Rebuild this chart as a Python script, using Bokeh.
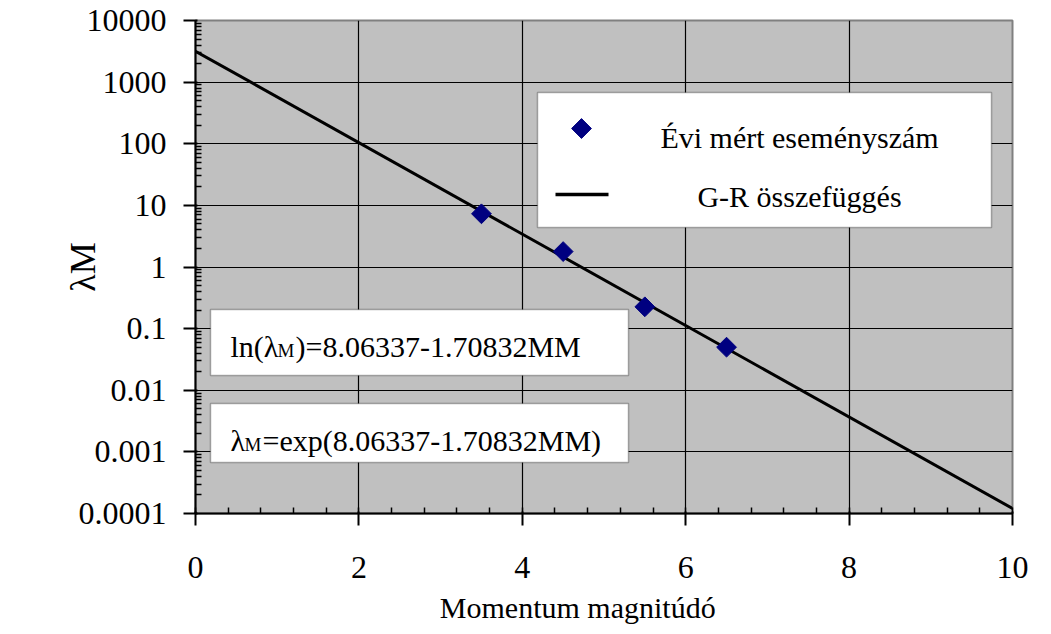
import math
from bokeh.plotting import figure
from bokeh.models import (Range1d, FixedTicker, SingleIntervalTicker, CustomJSTickFormatter,
                          Label, BoxAnnotation)
from bokeh.embed import file_html
from bokeh.resources import INLINE

# ---- data ----
magnitudes = [3.5, 4.5, 5.5, 6.5]
annual_counts = [7.3, 1.78, 0.226, 0.050]
gr_x = [0, 10]
gr_y = [3172.0, 0.000121]
y_major = [1e-4, 1e-3, 1e-2, 1e-1, 1, 10, 100, 1000, 10000]
legend_labels = ["Évi mért eseményszám", "G-R összefüggés"]
eq1 = ["ln(λ", "M", ")=8.06337-1.70832MM"]
eq2 = ["λ", "M", "=exp(8.06337-1.70832MM)"]
x_title = "Momentum magnitúdó"
y_title = "λM"

FONT = "Liberation Serif"
W, H = 1045, 630
FL, FT, FW, FH = 195, 20, 817, 493   # frame in canvas px

p = figure(width=W, height=H, output_backend="svg", toolbar_location=None,
           x_range=Range1d(0, 10), y_range=Range1d(1e-4, 1e4), y_axis_type="log",
           min_border_left=FL, min_border_top=FT,
           min_border_right=W - FL - FW, min_border_bottom=H - FT - FH)
p.background_fill_color = "#c0c0c0"
p.border_fill_color = "white"
p.outline_line_color = "#808080"
p.outline_line_width = 2

# canvas px -> data helpers (for annotation placement)
def dx(px):
    return (px - FL) / FW * 10.0

def dy(py):
    return 10 ** (4 - (py - FT) / FH * 8.0)

# axes
minor = []
for e in range(-4, 4):
    for k in range(2, 10):
        minor.append(k * 10 ** e)
p.yaxis.ticker = FixedTicker(ticks=y_major, minor_ticks=minor)
p.yaxis.formatter = CustomJSTickFormatter(code="""
    if (tick >= 1) { return Math.round(tick).toString(); }
    return tick.toPrecision(1);
""")
p.xaxis.ticker = SingleIntervalTicker(interval=2, num_minor_ticks=5)

for ax in (p.xaxis, p.yaxis):
    ax.axis_line_color = "black"
    ax.axis_line_width = 2
    ax.major_tick_line_color = "black"
    ax.major_tick_line_width = 2
    ax.minor_tick_line_color = "black"
    ax.minor_tick_line_width = 1.5
    ax.major_tick_in = 2
    ax.major_tick_out = 12
    ax.minor_tick_in = 6
    ax.minor_tick_out = 0
    ax.major_label_text_font = FONT
    ax.major_label_text_font_size = "32px"
    ax.major_label_text_color = "black"
    ax.axis_label_text_font = FONT
    ax.axis_label_text_font_style = "normal"
    ax.axis_label_text_color = "black"
p.xaxis.major_label_standoff = 31
p.yaxis.major_label_standoff = 17

p.yaxis.axis_label = y_title
p.yaxis.axis_label_text_font_size = "36px"
p.yaxis.axis_label_standoff = -27

# trailing no-break spaces shift the centred title left, as in the reference
p.xaxis.axis_label = x_title + "\u00a0" * 7
p.xaxis.axis_label_text_font_size = "30px"
p.xaxis.axis_label_standoff = 10

p.xgrid.grid_line_color = "black"
p.ygrid.grid_line_color = "black"
p.xgrid.grid_line_width = 1.2
p.ygrid.grid_line_width = 1.2

# series
p.line(gr_x, gr_y, line_color="black", line_width=3)
p.scatter(magnitudes, annual_counts, marker="square", angle=math.pi / 4, size=14,
          fill_color="#000080", line_color="#000080")

# legend (manual, centered labels)
p.add_layout(BoxAnnotation(left=dx(537), right=dx(991), top=dy(92), bottom=dy(227),
                           fill_color="white", fill_alpha=1, line_color="black", line_width=1.5))
r1 = p.scatter([dx(581)], [dy(128)], marker="square", angle=math.pi / 4, size=14,
               fill_color="#000080", line_color="#000080")
r2 = p.line([dx(555), dx(608)], [dy(194), dy(194)], line_color="black", line_width=3.5)
r1.level = "overlay"
r2.level = "overlay"
for lab, by in zip(legend_labels, [137, 196]):
    p.add_layout(Label(x=dx(799), y=dy(by), text=lab, text_align="center",
                       text_baseline="alphabetic", text_font=FONT,
                       text_font_size="30px", text_color="black"))

# equation boxes
for top, bot in [(309, 375), (403, 462)]:
    p.add_layout(BoxAnnotation(left=dx(210), right=dx(628), top=dy(top), bottom=dy(bot),
                               fill_color="white", fill_alpha=1, line_color="black", line_width=1.5))

def eq(parts, xs, base, sub_base):
    for i, (t, xp) in enumerate(zip(parts, xs)):
        sub = (i == 1)
        p.add_layout(Label(x=dx(xp), y=dy(sub_base if sub else base), text=t,
                           text_align="left", text_baseline="alphabetic", text_font=FONT,
                           text_font_size="19px" if sub else "30px", text_color="black"))

eq(eq1, [230, 277, 295], 346, 350)
eq(eq2, [230, 244, 262], 440, 444)

open("out.html", "w").write(file_html(p, INLINE))
